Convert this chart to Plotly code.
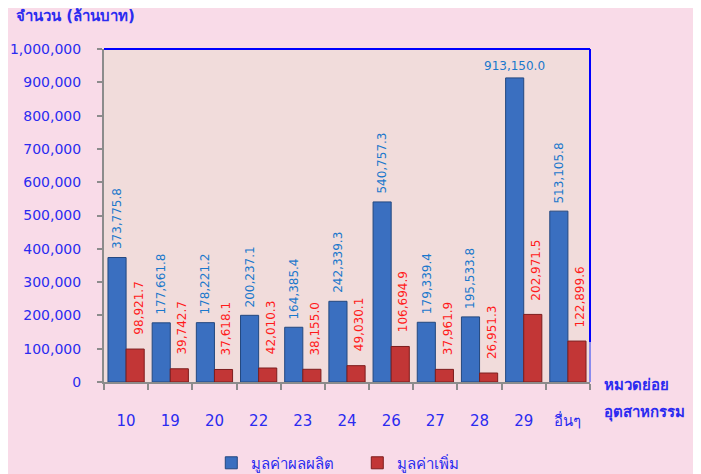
import plotly.graph_objects as go

# ข้อมูล (ล้านบาท)
categories = ['10', '19', '20', '22', '23', '24', '26', '27', '28', '29', 'อื่นๆ']
output_values = [373775.8, 177661.8, 178221.2, 200237.1, 164385.4, 242339.3,
                 540757.3, 179339.4, 195533.8, 913150.0, 513105.8]
added_values = [98921.7, 39742.7, 37618.1, 42010.3, 38155.0, 49030.1,
                106694.9, 37961.9, 26951.3, 202971.5, 122899.6]
y_ticks = [0, 100000, 200000, 300000, 400000, 500000, 600000, 700000, 800000, 900000, 1000000]

font_family = 'Tahoma, DejaVu Sans, sans-serif'
text_blue = '#2b2bf0'

fig = go.Figure()
fig.add_trace(go.Bar(
    x=categories, y=output_values, name='มูลค่าผลผลิต',
    marker=dict(color='#3a6fc0', line=dict(color='#23487f', width=1))
))
fig.add_trace(go.Bar(
    x=categories, y=added_values, name='มูลค่าเพิ่ม',
    marker=dict(color='#c23636', line=dict(color='#7d1d1d', width=1))
))

# ป้ายตัวเลขบนแท่ง
annotations = []
for i, v in enumerate(output_values):
    if v > 800000:
        annotations.append(dict(x=i, y=v, xref='x', yref='y', text=f'{v:,.1f}',
                                showarrow=False, xshift=-9, yshift=3, yanchor='bottom',
                                font=dict(color='#1a78cc', size=12, family=font_family)))
    else:
        annotations.append(dict(x=i, y=v, xref='x', yref='y', text=f'{v:,.1f}',
                                showarrow=False, xshift=-9, yshift=6, yanchor='bottom',
                                textangle=-90,
                                font=dict(color='#1a78cc', size=12, family=font_family)))
for i, v in enumerate(added_values):
    annotations.append(dict(x=i, y=v, xref='x', yref='y', text=f'{v:,.1f}',
                            showarrow=False, xshift=12, yshift=12, yanchor='bottom',
                            textangle=-90,
                            font=dict(color='#ff1a1a', size=12, family=font_family)))

# ชื่อแกน
annotations.append(dict(x=-0.185, y=1.099, xref='paper', yref='paper',
                        text='<b>จำนวน (ล้านบาท)</b>', showarrow=False,
                        xanchor='left', yanchor='middle',
                        font=dict(color=text_blue, size=15, family=font_family)))
annotations.append(dict(x=1.025, y=-0.009, xref='paper', yref='paper', text='<b>หมวดย่อย</b>',
                        showarrow=False, xanchor='left', yanchor='middle',
                        font=dict(color=text_blue, size=15, family=font_family)))
annotations.append(dict(x=1.025, y=-0.093, xref='paper', yref='paper', text='<b>อุตสาหกรรม</b>',
                        showarrow=False, xanchor='left', yanchor='middle',
                        font=dict(color=text_blue, size=15, family=font_family)))

fig.update_layout(
    width=701, height=474,
    margin=dict(l=96, r=119, t=41, b=100),
    paper_bgcolor='#f9dbe8',
    plot_bgcolor='#f1dcdb',
    barmode='group',
    bargap=0.18,
    bargroupgap=0,
    font=dict(family=font_family, color=text_blue, size=15),
    annotations=annotations,
    legend=dict(orientation='h', xref='container', yref='container',
                x=0.29, xanchor='left', y=0.04, yanchor='middle',
                entrywidth=101, font=dict(color=text_blue, size=15),
                bgcolor='rgba(0,0,0,0)'),
    shapes=[
        dict(type='line', xref='paper', yref='paper', x0=0, x1=1, y0=1, y1=1,
             line=dict(color='#0000ff', width=2)),
        dict(type='line', xref='paper', yref='paper', x0=1, x1=1, y0=0.12, y1=1,
             line=dict(color='#0000ff', width=2)),
        dict(type='line', xref='paper', yref='paper', x0=1, x1=1, y0=0, y1=0.12,
             line=dict(color='#8a8aee', width=2)),
    ],
)

fig.update_yaxes(
    range=[0, 1000000], tickvals=y_ticks, tickformat=',', automargin=False,
    showgrid=False, zeroline=False,
    showline=True, linecolor='#8c8c8c', linewidth=2,
    ticks='outside', ticklen=5, tickcolor='#8c8c8c', tickwidth=2,
    ticklabelstandoff=13,
    tickfont=dict(color=text_blue, size=14),
)
fig.update_xaxes(
    type='category', range=[-0.5, 10.5], tickangle=0, automargin=False,
    showgrid=False, showline=True, linecolor='#8c8c8c', linewidth=2,
    ticks='outside', tickson='boundaries', ticklen=6, tickcolor='#8c8c8c', tickwidth=2,
    ticklabelstandoff=24,
    tickfont=dict(color=text_blue, size=15),
)

fig.write_html("out.html")
